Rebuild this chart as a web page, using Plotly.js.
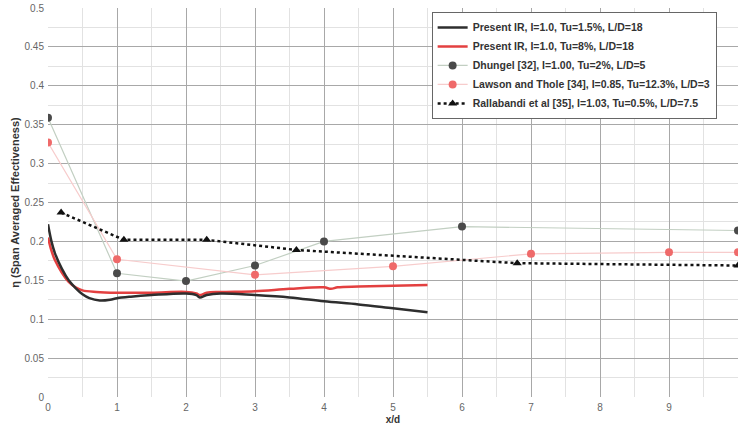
<!DOCTYPE html>
<html>
<head>
<meta charset="utf-8">
<script src="https://cdn.plot.ly/plotly-3.0.1.min.js"></script>
<style>html,body{margin:0;padding:0;background:#fff;}#chart{width:738px;height:425px;}</style>
</head>
<body>
<div id="chart"></div>
<script>
// Present IR, Tu=1.5%
const irLowX = [0.0, 0.05, 0.1, 0.2, 0.3, 0.4, 0.5, 0.6, 0.75, 0.9, 1.0, 1.2, 1.5, 2.0, 2.15, 2.2, 2.3, 2.5, 3.0, 3.5, 4.0, 4.5, 5.0, 5.5];
const irLowY = [0.222, 0.200, 0.185, 0.165, 0.150, 0.140, 0.132, 0.127, 0.124, 0.125, 0.127, 0.129, 0.131, 0.133, 0.131, 0.128, 0.131, 0.133, 0.131, 0.128, 0.123, 0.119, 0.114, 0.109];
// Present IR, Tu=8%
const irHighX = [0.0, 0.05, 0.1, 0.2, 0.3, 0.4, 0.5, 0.7, 1.0, 1.5, 2.0, 2.15, 2.2, 2.3, 2.5, 3.0, 3.5, 4.0, 4.1, 4.2, 4.5, 5.0, 5.5];
const irHighY = [0.205, 0.188, 0.176, 0.160, 0.148, 0.141, 0.137, 0.135, 0.134, 0.134, 0.135, 0.133, 0.131, 0.134, 0.135, 0.136, 0.139, 0.141, 0.139, 0.141, 0.142, 0.143, 0.144];
// Dhungel [32]
const dhX = [0, 1, 2, 3, 4, 6, 10];
const dhY = [0.359, 0.159, 0.149, 0.169, 0.200, 0.219, 0.214];
// Lawson and Thole [34]
const lwX = [0, 1, 3, 5, 7, 9, 10];
const lwY = [0.327, 0.177, 0.157, 0.168, 0.184, 0.186, 0.186];
// Rallabandi et al [35]
const raX = [0.19, 1.1, 2.3, 3.6, 6.8, 10];
const raY = [0.237, 0.202, 0.202, 0.189, 0.172, 0.169];

const names = [
  'Present IR, I=1.0, Tu=1.5%, L/D=18',
  'Present IR, I=1.0, Tu=8%, L/D=18',
  'Dhungel [32], I=1.00, Tu=2%, L/D=5',
  'Lawson and Thole [34], I=0.85, Tu=12.3%, L/D=3',
  'Rallabandi et al [35], I=1.03, Tu=0.5%, L/D=7.5'
];
const xTicks = [0,1,2,3,4,5,6,7,8,9,10];
const yTicks = [0,0.05,0.1,0.15,0.2,0.25,0.3,0.35,0.4,0.45,0.5];
const yTickText = ['0','0.05','0.1','0.15','0.2','0.25','0.3','0.35','0.4','0.45','0.5'];

const traces = [
  {x: dhX, y: dhY, name: names[2], mode: 'lines+markers', type: 'scatter',
   line: {color: '#c2cfc2', width: 1.2}, marker: {color: '#4a4a4a', size: 8, symbol: 'circle'}},
  {x: lwX, y: lwY, name: names[3], mode: 'lines+markers', type: 'scatter',
   line: {color: '#f7cccc', width: 1.2}, marker: {color: '#ef6a6a', size: 8, symbol: 'circle'}},
  {x: raX, y: raY, name: names[4], mode: 'lines+markers', type: 'scatter',
   line: {color: '#111', width: 2.5, dash: 'dot'}, marker: {color: '#111', size: 8, symbol: 'triangle-up'}},
  {x: irHighX, y: irHighY, name: names[1], mode: 'lines', type: 'scatter',
   line: {color: '#e34040', width: 2.5, shape: 'spline'}},
  {x: irLowX, y: irLowY, name: names[0], mode: 'lines', type: 'scatter',
   line: {color: '#2e2e2e', width: 2.5, shape: 'spline'}}
];
const legendOrder = [4, 3, 0, 1, 2];
legendOrder.forEach((ti, k) => { traces[ti].legendrank = k + 1; });

const layout = {
  width: 738, height: 425,
  margin: {l: 48, r: 0, t: 8, b: 28},
  paper_bgcolor: '#fff', plot_bgcolor: '#fff',
  font: {family: 'Liberation Sans, Arial, sans-serif', color: '#444', size: 10},
  showlegend: true,
  legend: {x: 0.556, y: 0.99, xanchor: 'left', yanchor: 'top',
    bgcolor: '#fff', bordercolor: '#666', borderwidth: 1,
    font: {size: 10.5, color: '#333', family: 'Liberation Sans, Arial, sans-serif', weight: 'bold'},
    tracegroupgap: 0, itemwidth: 30},
  xaxis: {range: [0, 10], tickvals: xTicks, ticktext: xTicks.map(String),
    showgrid: true, gridcolor: '#a8a8a8', gridwidth: 1,
    minor: {dtick: 0.5, showgrid: true, gridcolor: '#e2e2e2'},
    zeroline: false, showline: false, ticks: '',
    tickfont: {size: 10, color: '#666'}, ticklabelstandoff: 3,
    title: {text: 'x/d', font: {size: 10, color: '#333', weight: 'bold'}, standoff: 3}},
  yaxis: {range: [0, 0.5], tickvals: yTicks, ticktext: yTickText,
    showgrid: true, gridcolor: '#a8a8a8', gridwidth: 1,
    minor: {dtick: 0.025, showgrid: true, gridcolor: '#e2e2e2'},
    zeroline: false, showline: false, ticks: '',
    tickfont: {size: 10, color: '#666'}, ticklabelstandoff: 3,
    title: {text: 'η (Span Averaged Effectiveness)', font: {size: 11, color: '#333', weight: 'bold'}, standoff: 2}}
};
Plotly.newPlot('chart', traces, layout, {displayModeBar: false, staticPlot: true});
</script>
</body>
</html>
